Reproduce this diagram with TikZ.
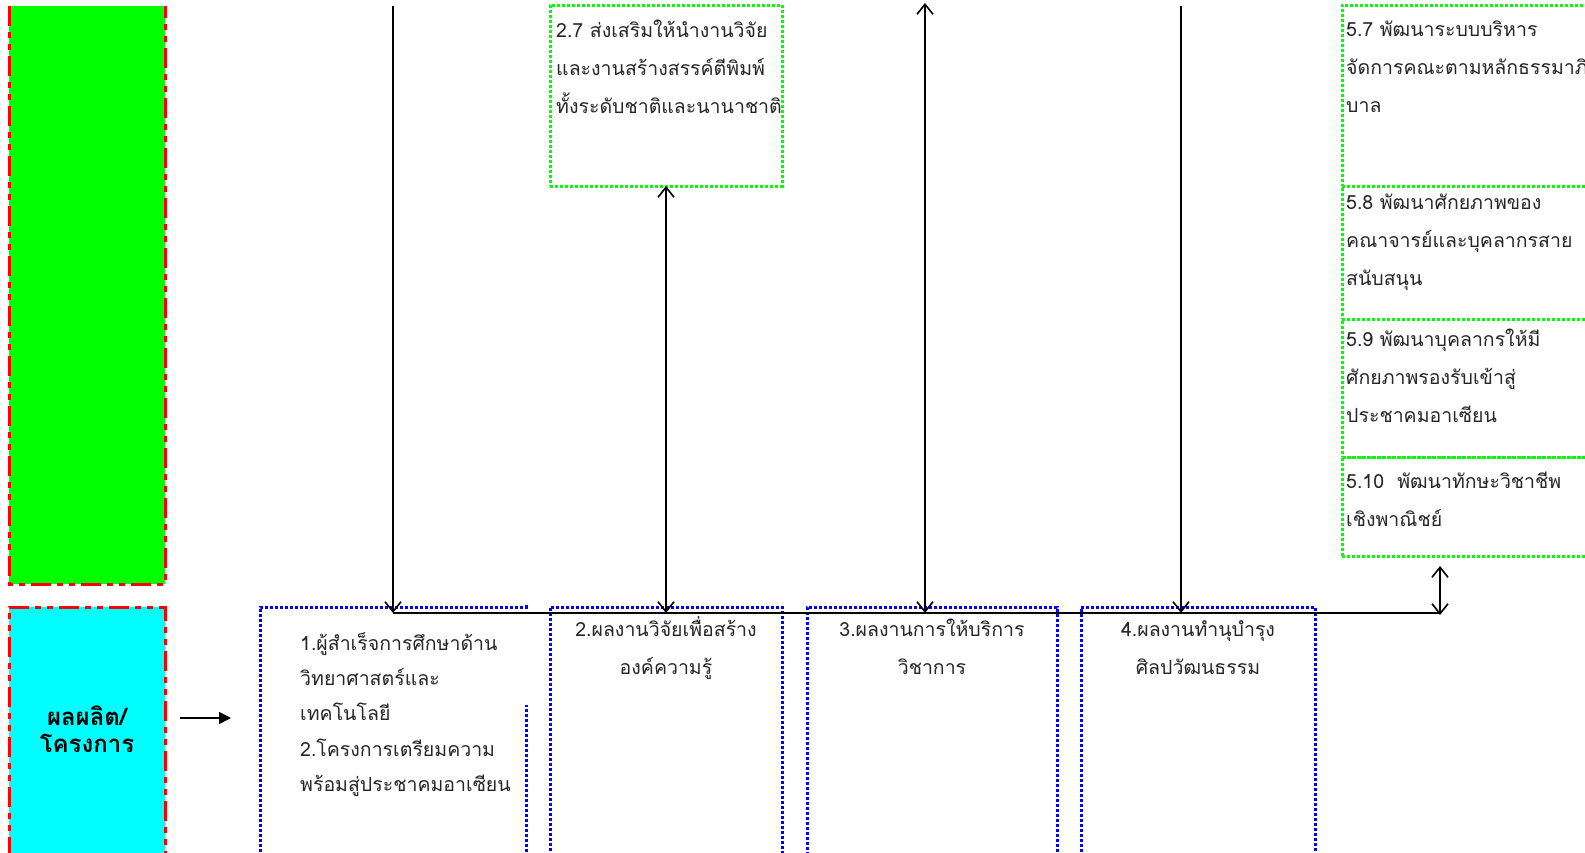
\documentclass[tikz,border=0pt]{standalone}
\usepackage{fontspec}
\setmainfont[Script=Thai]{Loma}
\usetikzlibrary{arrows.meta,positioning}
\definecolor{aqua}{RGB}{0,255,255}
\definecolor{lime}{RGB}{0,255,0}

\tikzset{
  colbox/.style={anchor=north west, minimum width=156pt, inner sep=0pt, outer sep=0pt},
  redframe/.style={draw=red, line width=3pt, dash pattern=on 20pt off 6pt on 6pt off 6pt on 6pt off 6pt},
  bluedot/.style={draw=blue, line width=3pt, dash pattern=on 3pt off 2pt},
  outbox/.style={anchor=north west, minimum height=300pt, inner sep=0pt, outer sep=0pt},
  greenbox/.style={draw=lime, line width=3pt, dash pattern=on 3pt off 2pt, anchor=north west, inner sep=0pt, outer sep=0pt},
  txt/.style={font=\fontsize{19.5pt}{38pt}\selectfont, text=black!85, inner sep=0pt, align=left, anchor=base west},
  ctxt/.style={txt, align=center, anchor=base},
  conn/.style={line width=1.6pt},
  barb/.tip={Straight Barb[length=10pt,width=16pt]}
}

\begin{document}
\begin{tikzpicture}[x=1pt,y=-1pt]
\useasboundingbox (0,0) rectangle (1585,852);
\clip (0,0) rectangle (1585,852);

% left column
\node[colbox, fill=lime, minimum height=578pt] (grn) at (9,6) {};
\node[colbox, fill=aqua, minimum height=300pt] (cyn) at (9,607) {};
\draw[redframe] (grn.north west) |- (grn.south east) -- (grn.north east);
\draw[redframe] (cyn.south west) |- (cyn.north east) -- (cyn.south east);
% (base = last line)
\node[ctxt, font=\bfseries\fontsize{24pt}{27.7pt}\selectfont, text=black] (lbl) at (87,752.7) {ผลผลิต/\\โครงการ};
\coordinate (arrS) at (180,718);
\coordinate (arrE) at (231,718);
\draw[conn, -{Triangle[length=12pt,width=12pt]}] (arrS) -- (arrE);

% outputs
\node[outbox, minimum width=266pt] (o1) at (260,607) {};
\draw[bluedot] (o1.south west) |- (o1.north east) -- ++(0,-4);
\draw[bluedot] (o1.south east) -- (o1.east |- 0,705);
\node[outbox, bluedot, minimum width=232pt] (o2) at (550,607) {};
\node[outbox, bluedot, minimum width=250pt] (o3) at (807,607) {};
\node[outbox, bluedot, minimum width=234pt] (o4) at (1081,607) {};

\node[txt, font=\fontsize{19.5pt}{35.4pt}\selectfont] (t1) at (300,791.6) {1.ผู้สำเร็จการศึกษาด้าน\\วิทยาศาสตร์และ\\เทคโนโลยี\\2.โครงการเตรียมความ\\พร้อมสู่ประชาคมอาเซียน};
\node[ctxt] (t2) at (666,674) {2.ผลงานวิจัยเพื่อสร้าง\\องค์ความรู้};
\node[ctxt] (t3) at (932,674) {3.ผลงานการให้บริการ\\วิชาการ};
\node[ctxt] (t4) at (1198,674) {4.ผลงานทำนุบำรุง\\ศิลปวัฒนธรรม};

% strategies
\node[greenbox, minimum width=232pt, minimum height=181pt] (r27) at (550,5) {};
\node[greenbox, minimum width=300pt, minimum height=181pt] (r57) at (1342,5) {};
\node[greenbox, minimum width=300pt, minimum height=133pt, below=0pt of r57] (r58) {};
\node[greenbox, minimum width=300pt, minimum height=138pt, below=0pt of r58] (r59) {};
\node[greenbox, minimum width=300pt, minimum height=99pt, below=0pt of r59] (r510) {};

\node[txt] (t27) at (556,113) {2.7 ส่งเสริมให้นำงานวิจัย\\และงานสร้างสรรค์ตีพิมพ์\\ทั้งระดับชาติและนานาชาติ};
\node[txt] (t57) at (1346,112) {5.7 พัฒนาระบบบริหาร\\จัดการคณะตามหลักธรรมาภิ\\บาล};
\node[txt] (t58) at (1346,285) {5.8 พัฒนาศักยภาพของ\\คณาจารย์และบุคลากรสาย\\สนับสนุน};
\node[txt] (t59) at (1346,422) {5.9 พัฒนาบุคลากรให้มี\\ศักยภาพรองรับเข้าสู่\\ประชาคมอาเซียน};
\node[txt] (t510) at (1346,526) {5.10\ \ พัฒนาทักษะวิชาชีพ\\เชิงพาณิชย์};

% links
\coordinate (bus) at (0,613);
\coordinate (top1) at (393,6);
\coordinate (top3) at (925,3);
\coordinate (top4) at (1181,6);
\coordinate (tip5) at (1440,566);
\coordinate (end5) at (1440,615);
\draw[conn] (top1 |- bus) -- (tip5 |- bus);
\draw[conn, -{barb}] (top1) -- (top1 |- bus);
\draw[conn, {barb}-{barb}] (r27.south) -- (r27.south |- bus);
\draw[conn, {barb}-{barb}] (top3) -- (top3 |- bus);
\draw[conn, -{barb}] (top4) -- (top4 |- bus);
\draw[conn, {barb}-{barb}] (tip5) -- (end5);

\end{tikzpicture}
\end{document}
